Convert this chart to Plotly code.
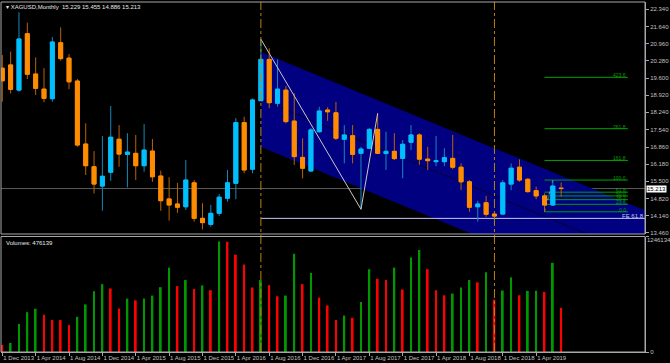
import plotly.graph_objects as go

# ---------------- data ----------------
symbol = "XAGUSD"
timeframe = "Monthly"
months = ["Dec 2013", "Jan 2014", "Feb 2014", "Mar 2014", "Apr 2014", "May 2014", "Jun 2014", "Jul 2014",
          "Aug 2014", "Sep 2014", "Oct 2014", "Nov 2014", "Dec 2014", "Jan 2015", "Feb 2015", "Mar 2015",
          "Apr 2015", "May 2015", "Jun 2015", "Jul 2015", "Aug 2015", "Sep 2015", "Oct 2015", "Nov 2015",
          "Dec 2015", "Jan 2016", "Feb 2016", "Mar 2016", "Apr 2016", "May 2016", "Jun 2016", "Jul 2016",
          "Aug 2016", "Sep 2016", "Oct 2016", "Nov 2016", "Dec 2016", "Jan 2017", "Feb 2017", "Mar 2017",
          "Apr 2017", "May 2017", "Jun 2017", "Jul 2017", "Aug 2017", "Sep 2017", "Oct 2017", "Nov 2017",
          "Dec 2017", "Jan 2018", "Feb 2018", "Mar 2018", "Apr 2018", "May 2018", "Jun 2018", "Jul 2018",
          "Aug 2018", "Sep 2018", "Oct 2018", "Nov 2018", "Dec 2018", "Jan 2019", "Feb 2019", "Mar 2019",
          "Apr 2019", "May 2019", "Jun 2019", "Jul 2019"]
opens = [19.99, 20.12, 19.12, 21.36, 19.76, 19.16, 18.78, 21.00, 20.39, 19.48, 16.98, 16.08, 15.31, 15.86,
         17.17, 16.57, 16.61, 16.12, 16.70, 15.71, 14.80, 14.60, 14.49, 15.44, 14.03, 13.79, 14.23, 14.83,
         15.42, 17.83, 15.98, 18.70, 20.34, 18.60, 19.12, 17.89, 16.45, 15.91, 17.47, 18.33, 18.22, 17.17,
         17.31, 16.61, 16.81, 17.56, 16.60, 16.69, 16.41, 17.05, 17.34, 16.38, 16.28, 16.28, 16.41, 16.06,
         15.48, 14.49, 14.65, 14.20, 14.20, 15.39, 16.06, 15.58, 15.13, 14.92, 14.56, 15.229]
highs = [20.51, 20.65, 22.21, 21.80, 20.42, 19.99, 21.23, 21.61, 20.55, 19.56, 17.80, 16.70, 17.30, 18.49,
         17.73, 17.41, 17.34, 17.77, 17.18, 15.92, 15.66, 15.44, 16.35, 15.55, 14.63, 14.56, 15.00, 15.95,
         18.01, 18.06, 18.79, 21.14, 20.78, 20.34, 19.28, 19.00, 17.21, 17.62, 18.46, 18.44, 18.65, 17.73,
         17.73, 16.87, 17.62, 18.20, 17.47, 17.41, 17.14, 17.73, 17.41, 16.87, 17.30, 16.81, 17.34, 16.21,
         15.55, 14.73, 14.92, 14.25, 15.55, 16.21, 16.37, 15.62, 15.29, 15.02, 15.55, 15.455]
lows = [18.66, 18.99, 19.06, 19.56, 18.93, 18.64, 18.66, 20.29, 19.16, 16.87, 15.75, 15.02, 14.33, 15.52,
        16.08, 15.26, 15.55, 15.88, 15.48, 14.33, 13.94, 14.25, 14.36, 13.90, 13.59, 13.70, 14.12, 14.69,
        14.79, 15.82, 15.82, 18.69, 18.40, 18.46, 17.80, 16.15, 15.62, 15.88, 17.43, 17.90, 17.14, 16.21,
        16.21, 14.39, 16.78, 16.58, 15.95, 16.35, 15.62, 16.74, 16.15, 15.95, 16.10, 16.10, 15.98, 15.15,
        14.29, 13.90, 14.09, 14.07, 14.16, 15.15, 15.48, 15.05, 14.79, 14.29, 14.52, 14.886]
closes = [19.49, 19.15, 21.15, 19.75, 19.19, 18.79, 21.03, 20.37, 19.45, 16.94, 16.12, 15.39, 15.70, 17.25,
          16.58, 16.66, 16.12, 16.74, 15.68, 14.73, 14.56, 14.47, 15.55, 14.03, 13.86, 14.23, 14.87, 15.44,
          17.83, 15.95, 18.73, 20.34, 18.62, 19.16, 17.87, 16.48, 16.02, 17.54, 18.29, 18.26, 17.21, 17.34,
          16.57, 16.78, 17.56, 16.61, 16.69, 16.40, 16.97, 17.34, 16.38, 16.32, 16.32, 16.44, 16.06, 15.48,
          14.47, 14.60, 14.19, 14.12, 15.44, 16.02, 15.55, 15.09, 14.92, 14.56, 15.31, 15.213]
volumes = [76500, 98400, 302800, 429600, 466800, 401200, 346500, 344300, 291900, 379300, 513800, 655900,
           732400, 685400, 470000, 576100, 557500, 576900, 608900, 699600, 910600, 710500, 776100, 681000,
           718200, 666800, 1191500, 1188200, 1049400, 943400, 696300, 776100, 721400, 601200, 608900, 1060300,
           732400, 852600, 587000, 502800, 346500, 393500, 368400, 538900, 893100, 790300, 776100, 910600,
           674400, 1019900, 1100800, 893100, 666800, 612100, 630700, 696300, 776100, 751000, 860300, 565100,
           663500, 805600, 612100, 659200, 661300, 648200, 961900, 476139]
volume_scale_max = 1246134

price_ticks = [13.460, 14.140, 14.820, 15.500, 16.180, 16.860, 17.540, 18.240, 18.920, 19.600, 20.280,
               20.960, 21.640, 22.340]
date_tick_months = months[::4]

# chart objects (anchors)
separator_months = ["Jul 2016", "Nov 2018"]
channel_months = ["Jul 2016", "Jul 2019"]
channel_upper_prices = [20.63, 15.72]
channel_width = 3.77
fe_months = ["Jul 2016", "Jul 2017", "Sep 2017"]
fe_level = 61.8
fib_months = ["May 2019", "Jun 2019"]
fib_levels = [0.0, 23.6, 38.2, 50.0, 61.8, 100.0, 161.8, 261.8, 423.6]
fib_extend_bars = 10

# ---------------- helpers ----------------
idx = {m: i for i, m in enumerate(months)}
xs = list(range(len(months)))
X_RANGE = [-0.155, 77.05]
Y_RANGE = [13.408, 22.618]

BG = "#000000"
FG = "#c0c0c0"
FRAME = "#a8a8a8"
BULL, BEAR = "#00bfff", "#ff8c00"
BULL_W, BEAR_W = "#1588b8", "#b86400"
FIB = "#00a000"
FONT = "Liberation Sans Narrow, Arial Narrow, Liberation Sans, sans-serif"
FS = 6

fig = go.Figure()
shapes = []

# channel (filled, drawn beneath the candles)
c0, c1 = idx[channel_months[0]], idx[channel_months[1]]
slope = (channel_upper_prices[1] - channel_upper_prices[0]) / (c1 - c0)
x_end = X_RANGE[1]
up0 = channel_upper_prices[0]
up_end = up0 + slope * (x_end - c0)
lo0, lo_end = up0 - channel_width, up_end - channel_width
shapes.append(dict(type="path", xref="x", yref="y", layer="below",
                   path=f"M {c0},{up0} L {x_end},{up_end} L {x_end},{lo_end} L {c0},{lo0} Z",
                   fillcolor="#000080", line=dict(width=0)))
shapes.append(dict(type="line", xref="x", yref="y", layer="below", x0=c0, x1=x_end,
                   y0=up0 - channel_width / 2, y1=up_end - channel_width / 2,
                   line=dict(color="#000030", width=1)))

# bid line
shapes.append(dict(type="line", xref="x domain", yref="y", layer="below", x0=0, x1=1,
                   y0=closes[-1], y1=closes[-1], line=dict(color="#5a5a5a", width=1)))

# Fibo expansion level
fe_pts = [highs[idx[fe_months[0]]], lows[idx[fe_months[1]]], highs[idx[fe_months[2]]]]
fe_price = fe_pts[2] - fe_level / 100 * (fe_pts[0] - fe_pts[1])
shapes.append(dict(type="line", xref="x", yref="y", layer="below", x0=idx[fe_months[0]], x1=X_RANGE[1],
                   y0=fe_price, y1=fe_price, line=dict(color="#c8c8f0", width=1)))

# Fibo retracement levels
f0, f1 = idx[fib_months[0]], idx[fib_months[1]]
fib_lo, fib_hi = lows[f0], highs[f1]
fib_end = f0 + fib_extend_bars
fib_prices = [fib_lo + lv / 100 * (fib_hi - fib_lo) for lv in fib_levels]
for p in fib_prices:
    shapes.append(dict(type="line", xref="x", yref="y", layer="below", x0=f0, x1=fib_end, y0=p, y1=p,
                       line=dict(color=FIB, width=1)))
shapes.append(dict(type="line", xref="x", yref="y", layer="below", x0=f0, x1=f1, y0=fib_lo, y1=fib_hi,
                   line=dict(color="#909090", width=1, dash="dot")))

# candles: wicks (dim) then bodies (bright)
fig.add_trace(go.Candlestick(
    x=xs, open=opens, high=highs, low=lows, close=closes,
    increasing=dict(line=dict(color=BULL_W, width=1), fillcolor=BULL),
    decreasing=dict(line=dict(color=BEAR_W, width=1), fillcolor=BEAR),
    whiskerwidth=0, hoverinfo="skip", showlegend=False, xaxis="x", yaxis="y"))
body_hi = [max(o, c) for o, c in zip(opens, closes)]
body_lo = [min(o, c) for o, c in zip(opens, closes)]
fig.add_trace(go.Candlestick(
    x=xs, open=opens, high=body_hi, low=body_lo, close=closes,
    increasing=dict(line=dict(color=BULL, width=1), fillcolor=BULL),
    decreasing=dict(line=dict(color=BEAR, width=1), fillcolor=BEAR),
    whiskerwidth=0, hoverinfo="skip", showlegend=False, xaxis="x", yaxis="y"))

# Fibo expansion zigzag
fig.add_trace(go.Scatter(x=[idx[m] for m in fe_months], y=fe_pts, mode="lines",
                         line=dict(color="#c8c8c8", width=1), hoverinfo="skip", showlegend=False))

# volumes
vcol = ["#ff0000"] + ["#009800" if volumes[i] > volumes[i - 1] else "#ff0000" for i in range(1, len(volumes))]
fig.add_trace(go.Bar(x=xs, y=volumes, marker=dict(color=vcol, line=dict(width=0)), width=0.22,
                     hoverinfo="skip", showlegend=False, xaxis="x", yaxis="y2"))

for m in separator_months:
    shapes.append(dict(type="line", xref="x", yref="paper", x0=idx[m], x1=idx[m], y0=0, y1=1,
                       line=dict(color="#b8860b", width=1, dash="dashdot"), layer="above"))
shapes.append(dict(type="rect", xref="x domain", yref="y domain", x0=0, x1=1, y0=0, y1=1,
                   line=dict(color=FRAME, width=1), layer="above"))
shapes.append(dict(type="rect", xref="x domain", yref="y2 domain", x0=0, x1=1, y0=0, y1=1,
                   line=dict(color=FRAME, width=1), layer="above"))

small = dict(family=FONT, size=FS)
annotations = [
    dict(xref="paper", yref="paper", x=0.004, y=0.999, xanchor="left", yanchor="top", showarrow=False,
         text=f"\u25be {symbol},{timeframe}  {opens[-1]:.3f} {highs[-1]:.3f} {lows[-1]:.3f} {closes[-1]:.3f}",
         font=dict(small, color="#e8e8e8")),
    dict(xref="paper", yref="y2 domain", x=0.004, y=0.985, xanchor="left", yanchor="top", showarrow=False,
         text=f"Volumes: {volumes[-1]}", font=dict(small, color="#e8e8e8")),
    dict(xref="paper", yref="y", x=1.0, y=closes[-1], xanchor="left", yanchor="middle", showarrow=False,
         text=f"{closes[-1]:.3f}", bgcolor="#ffffff", font=dict(small, color="#000000"),
         borderpad=0, xshift=1),
    dict(xref="paper", yref="y", x=1.0, y=fe_price, xanchor="right", yanchor="bottom", showarrow=False,
         text=f"FE {fe_level}", font=dict(small, color="#c8c8f0"), xshift=1, yshift=-3),
    dict(xref="paper", yref="y2 domain", x=1.0, y=1.0, xanchor="left", yanchor="top", showarrow=False,
         text=str(volume_scale_max), font=dict(small, color=FG), xshift=0, yshift=1),
]
for lv, p in zip(fib_levels, fib_prices):
    annotations.append(dict(xref="x", yref="y", x=fib_end, y=p, xanchor="right", yanchor="bottom",
                            showarrow=False, text=f"{lv:.1f}", yshift=-3,
                            font=dict(family=FONT, size=5, color=FIB)))

fig.update_layout(
    width=670, height=363, margin=dict(l=1, r=22, t=2, b=11),
    paper_bgcolor=BG, plot_bgcolor=BG, showlegend=False, boxgap=0.32,
    font=dict(family=FONT, size=FS, color=FG),
    xaxis=dict(range=X_RANGE, anchor="y2", showgrid=False, zeroline=False, rangeslider=dict(visible=False),
               tickmode="array", tickvals=[idx[m] for m in date_tick_months],
               ticktext=["1 " + m for m in date_tick_months], ticks="outside", ticklen=3, tickcolor=FRAME,
               ticklabelposition="outside right", tickangle=0, showline=True, linecolor=FRAME,
               tickfont=dict(small, color=FG)),
    yaxis=dict(domain=[0.3371, 1.0], range=Y_RANGE, side="right", showgrid=False, zeroline=False,
               tickmode="array", tickvals=price_ticks, ticktext=[f"{t:.3f}" for t in price_ticks],
               ticks="outside", ticklen=3, tickcolor=FRAME, showline=True, linecolor=FRAME,
               tickfont=dict(small, color=FG)),
    yaxis2=dict(domain=[0.0, 0.33], range=[0, volume_scale_max], side="right", showgrid=False,
                zeroline=False, tickmode="array", tickvals=[0, volume_scale_max],
                ticktext=["0", ""], ticks="outside", ticklen=3, tickcolor=FRAME,
                showline=True, linecolor=FRAME, tickfont=dict(small, color=FG)),
    shapes=shapes, annotations=annotations,
)

fig.write_html("out.html")
